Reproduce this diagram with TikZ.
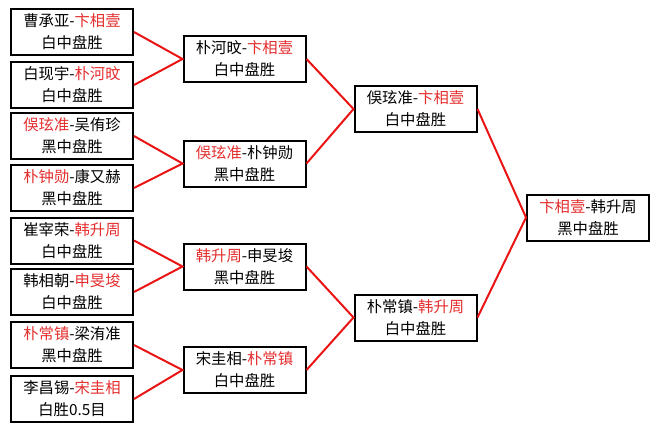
\documentclass[tikz,border=0pt]{standalone}
\usepackage{fontspec}
\newfontfamily\cjk{Noto Sans CJK SC}
\definecolor{winred}{RGB}{228,45,45}
\definecolor{linkred}{RGB}{235,20,20}
\newcommand{\win}[1]{\textcolor{winred}{#1}}

\begin{document}
\begin{tikzpicture}[x=0.75pt,y=0.75pt,yscale=-1,
  match/.style={draw, line width=1.5pt, minimum width=91.5pt, minimum height=34.5pt,
    inner sep=0pt, align=center, font=\cjk\fontsize{11.5}{16.5}\selectfont},
  link/.style={draw=linkred, line width=1.5pt}]

\useasboundingbox (0,0) rectangle (659,429);

% first round
\node [match] (r1a) at (72,32)    {曹承亚-\win{卞相壹}\\白中盘胜};
\node [match] (r1b) at (72,85)    {白现宇-\win{朴河旼}\\白中盘胜};
\node [match] (r1c) at (72,136)   {\win{俁玹准}-吴侑珍\\黑中盘胜};
\node [match] (r1d) at (72,188)   {\win{朴钟勋}-康又赫\\黑中盘胜};
\node [match] (r1e) at (72,240.5) {崔宰荣-\win{韩升周}\\白中盘胜};
\node [match] (r1f) at (72,292)   {韩相朝-\win{申旻埈}\\白中盘胜};
\node [match] (r1g) at (72,345)   {\win{朴常镇}-梁洧准\\黑中盘胜};
\node [match] (r1h) at (72,399)   {李昌锡-\win{宋圭相}\\白胜0.5目};

% second round
\node [match] (r2a) at (244.5,59)    {朴河旼-\win{卞相壹}\\白中盘胜};
\node [match] (r2b) at (244.5,163.5) {\win{俁玹准}-朴钟勋\\黑中盘胜};
\node [match] (r2c) at (244.5,266.5) {\win{韩升周}-申旻埈\\黑中盘胜};
\node [match] (r2d) at (244.5,370)   {宋圭相-\win{朴常镇}\\白中盘胜};

% semifinals
\node [match] (r3a) at (415.5,109)   {俁玹准-\win{卞相壹}\\白中盘胜};
\node [match] (r3b) at (415.5,317.5) {朴常镇-\win{韩升周}\\白中盘胜};

% final
\node [match] (fin) at (588,217.5) {\win{卞相壹}-韩升周\\黑中盘胜};

\draw [link] (r1a.east) -- (r2a.west) -- (r1b.east);
\draw [link] (r1c.east) -- (r2b.west) -- (r1d.east);
\draw [link] (r1e.east) -- (r2c.west) -- (r1f.east);
\draw [link] (r1g.east) -- (r2d.west) -- (r1h.east);
\draw [link] (r2a.east) -- (r3a.west) -- (r2b.east);
\draw [link] (r2c.east) -- (r3b.west) -- (r2d.east);
\draw [link] (r3a.east) -- (fin.west) -- (r3b.east);

\end{tikzpicture}
\end{document}
